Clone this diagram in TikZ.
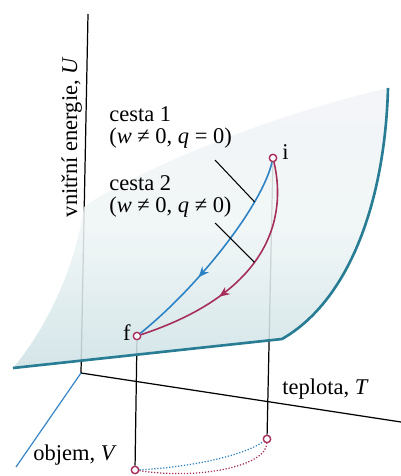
\documentclass[tikz,border=0pt]{standalone}
\usepackage{fontspec}
\setmainfont{Liberation Serif}
\usetikzlibrary{arrows.meta,decorations.markings}
\definecolor{pathblue}{RGB}{45,130,195}
\definecolor{pathred}{RGB}{165,45,90}
\definecolor{surfedge}{RGB}{40,125,148}
\definecolor{surffill}{RGB}{206,226,229}
\definecolor{surfmid}{RGB}{239,245,246}
\definecolor{surfback}{RGB}{241,244,247}
\definecolor{vaxis}{RGB}{60,135,200}
\pgfdeclarelayer{back}
\pgfdeclarelayer{surf}
\pgfsetlayers{back,surf,main}

\begin{document}
\begin{tikzpicture}[
  x=0.02cm, y=-0.02cm,
  state/.style={circle, draw=pathred, fill=white, line width=0.8pt,
                inner sep=0pt, minimum size=4.2pt},
  route1/.style={line width=0.9pt, pathblue, postaction={decorate},
                 decoration={markings, mark=at position 0.63 with {\arrow{Stealth[length=6pt,width=5pt]}}}},
  route2/.style={line width=0.9pt, pathred, postaction={decorate},
                 decoration={markings, mark=at position 0.64 with {\arrow{Stealth[length=6pt,width=5pt]}}}},
  axis/.style={line width=0.7pt},
  lead/.style={line width=0.6pt},
  dotproj/.style={line width=0.7pt, densely dotted},
  surfline/.style={line width=1.5pt, surfedge, line join=round},
  lbl/.style={font=\fontsize{12.8}{12.6}\selectfont, inner sep=0pt, align=left}
]
  \useasboundingbox (0,0) rectangle (401,476);

  \node[state] (i) at (273,158) {};
  \node[state] (f) at (137,336) {};
  \node[state] (iproj) at (267,439) {};
  \node[state] (fproj) at (135,470) {};

  \node[lbl, anchor=base west] (ilbl) at (282,160) {i};
  \node[lbl, anchor=base east] (flbl) at (131,340) {f};
  \node[lbl, anchor=north west] (c1) at (109,106) {cesta 1\\(\textit{w} ≠ 0, \textit{q} = 0)};
  \node[lbl, anchor=north west] (c2) at (109,175) {cesta 2\\(\textit{w} ≠ 0, \textit{q} ≠ 0)};
  \node[lbl, anchor=base west] (tlbl) at (282,394) {teplota, \textit{T}};
  \node[lbl, anchor=base west] (vlbl) at (33,460) {objem, \textit{V}};
  \node[lbl, rotate=90, anchor=base] (ulbl) at (77,137) {vnitřní energie, \textit{U}};

  \draw[route1] (i) .. controls (262,205) and (200,285) .. (f) coordinate[pos=0.26] (r1);
  \draw[route2] (i) .. controls (284,205) and (282,288) .. (f) coordinate[pos=0.58] (r2);

  \coordinate (l1) at (215,160);
  \coordinate (l2) at (215,223);
  \draw[lead] (l1) -- (r1);
  \draw[lead] (l2) -- (r2);

  \draw[dotproj, pathblue] (fproj) .. controls (180,468) and (240,458) .. (iproj);
  \draw[dotproj, pathred] (fproj) .. controls (200,480) and (266,466) .. (iproj);

  \begin{pgfonlayer}{back}
    \coordinate (O) at (81,373);
    \coordinate (Utop) at (88,14);
    \coordinate (Tend) at (401,422);
    \coordinate (Vend) at (16,467);
    \draw[axis] (Utop) -- (O) -- (Tend);
    \draw[axis, vaxis] (O) -- (Vend);
    \draw[axis] (f) -- (fproj);
    \draw[axis] (i) -- (iproj);
  \end{pgfonlayer}

  \begin{pgfonlayer}{surf}
    \shade[top color=surfback, bottom color=surffill, middle color=surfmid, fill opacity=0.88]
      (13,368) -- (282,339) .. controls (350,300) and (385,200) .. (388,88)
      .. controls (250,120) and (120,180) .. (84,207)
      .. controls (75,270) and (45,330) .. cycle;
    \draw[surfline] (13,368) -- (282,339) .. controls (350,300) and (385,200) .. (388,88);
  \end{pgfonlayer}
\end{tikzpicture}
\end{document}
